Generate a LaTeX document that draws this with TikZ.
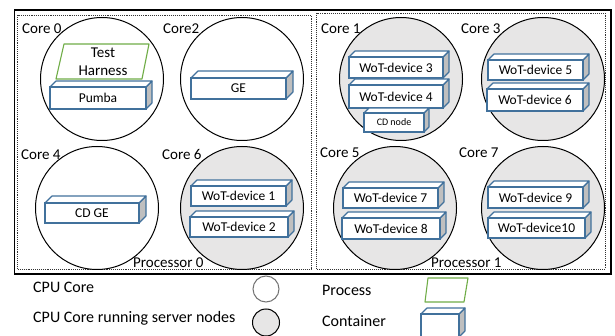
\documentclass[tikz,border=0pt]{standalone}
\usepackage{fontspec}
\setmainfont{Carlito}
\definecolor{ctrblue}{HTML}{41719C}
\definecolor{procgreen}{HTML}{70AD47}
\definecolor{corefill}{HTML}{E7E6E6}
\definecolor{sidegray}{HTML}{BFBFBF}
\newcommand\wotbox[7]{%
  \filldraw[ctrside] (#4,#3) -- ++(#7,-#7) -- ({#4+#7},{#5-#7}) -- (#4,#5) -- cycle;
  \filldraw[ctrtop] (#2,#3) -- ++(#7,-#7) -- ({#4+#7},{#3-#7}) -- (#4,#3) -- cycle;
  \filldraw[ctrfront] (#2,#3) rectangle (#4,#5);
  \node[boxtext] (#1) at ({(#2+#4)/2},{(#3+#5)/2}) {#6};
}
\begin{document}
\begin{tikzpicture}[x=1pt,y=-1pt,
  ctrside/.style={draw=ctrblue,fill=sidegray,line width=1.1pt,line join=round},
  ctrtop/.style={draw=ctrblue,fill=white,line width=1.1pt,line join=round},
  ctrfront/.style={draw=ctrblue,fill=white,line width=1.1pt},
  boxtext/.style={inner sep=0pt,font=\fontsize{13.5}{14}\selectfont},
  corelabel/.style={inner sep=0pt,anchor=base west,font=\fontsize{15}{16}\selectfont},
  legtext/.style={inner sep=0pt,anchor=base west,font=\fontsize{16}{17}\selectfont},
  core/.style={circle,draw=black,line width=1pt,fill=white,minimum size=123pt,inner sep=0pt},
  servercore/.style={core,fill=corefill},
  procbox/.style={draw=black!80,densely dotted,line width=0.9pt},
  outerbox/.style={draw=black,line width=1.5pt},
  procshape/.style={draw=procgreen,line width=1.1pt,fill=white,line join=round}
]
\useasboundingbox (0,0) rectangle (615,336);
\fill[white] (0,0) rectangle (615,336);

% outer frame and processors
\draw[outerbox] (14.5,10) rectangle (611,274);
\draw[procbox] (17.5,15) rectangle (311,269);
\draw[procbox] (316.5,13) rectangle (605,269);

% cores
\node[core] (c0) at (102,79) {};
\node[core] (c2) at (242,79) {};
\node[core] (c4) at (97,208) {};
\node[servercore] (c6) at (242,208) {};
\node[servercore] (c1) at (401,79) {};
\node[servercore] (c3) at (543,79) {};
\node[servercore] (c5) at (395,208) {};
\node[servercore] (c7) at (543,208) {};

% core labels
\node[corelabel] (l0) at (22,34) {Core 0};
\node[corelabel] (l2) at (163,34) {Core2};
\node[corelabel] (l4) at (21,160) {Core 4};
\node[corelabel] (l6) at (162,160) {Core 6};
\node[corelabel] (l1) at (321,34) {Core 1};
\node[corelabel] (l3) at (461,34) {Core 3};
\node[corelabel] (l5) at (320,158) {Core 5};
\node[corelabel] (l7) at (459,158) {Core 7};
\node[corelabel] (p0) at (133,268) {Processor 0};
\node[corelabel] (p1) at (431,268) {Processor 1};

% Test harness
\filldraw[procshape] (64,44) -- (149,44) -- (142,79) -- (56,79) -- cycle;
\node[inner sep=0pt,align=center,font=\fontsize{15}{18}\selectfont] (th) at (103,61.5) {Test\\Harness};

% containers
\wotbox{pumba}{50}{87}{146}{109}{Pumba}{6}
\wotbox{ge}{191}{78}{286}{99}{GE}{7}
\wotbox{cdge}{45}{203}{139}{223}{CD GE}{7}
\wotbox{w1}{191}{186}{286}{206}{WoT-device 1}{6}
\wotbox{w2}{190}{217}{288}{237}{WoT-device 2}{6}
\wotbox{w3}{349}{57}{443}{78}{WoT-device 3}{6}
\wotbox{w4}{349}{85}{443}{108}{WoT-device 4}{6}
\filldraw[ctrside] (424,113) -- ++(5,-5) -- (429,127) -- (424,132) -- cycle;
\filldraw[ctrtop] (364,113) -- ++(5,-5) -- (429,108) -- (424,113) -- cycle;
\filldraw[ctrfront] (364,113) rectangle (424,132);
\node[inner sep=0pt,font=\fontsize{10}{11}\selectfont] (cdn) at (394,122.5) {CD node};
\wotbox{w5}{488}{60}{583}{80}{WoT-device 5}{6}
\wotbox{w6}{487}{89}{583}{111}{WoT-device 6}{6}
\wotbox{w7}{343}{188}{438}{208}{WoT-device 7}{6}
\wotbox{w8}{342}{218}{440}{239}{WoT-device 8}{6}
\wotbox{w9}{488}{187}{583}{208}{WoT-device 9}{6}
\wotbox{w10}{488}{218}{585}{238}{WoT-device10}{6}

% legend
\node[legtext] (lg1) at (33,293) {CPU Core};
\node[legtext] (lg2) at (33,322) {CPU Core running server nodes};
\node[circle,draw=black!55,line width=1pt,fill=white,minimum size=26pt,inner sep=0pt] (lc1) at (266,289) {};
\node[circle,draw=black,line width=1pt,fill=corefill,minimum size=27pt,inner sep=0pt] (lc2) at (266,322.5) {};
\node[legtext] (lg3) at (322,296) {Process};
\node[legtext] (lg4) at (322,326) {Container};
\filldraw[procshape] (428,278) -- (468,278) -- (464,302) -- (425,302) -- cycle;
\filldraw[ctrside] (459,314) -- ++(6,-6) -- (465,331) -- (459,337) -- cycle;
\filldraw[ctrtop] (421,314) -- ++(6,-6) -- (465,308) -- (459,314) -- cycle;
\filldraw[ctrfront] (421,314) rectangle (459,337);
\end{tikzpicture}
\end{document}
